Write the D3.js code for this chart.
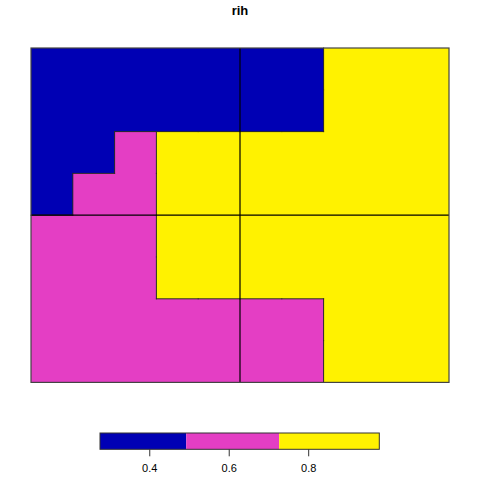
<!DOCTYPE html>
<html><head><meta charset="utf-8">
<script src="https://cdn.jsdelivr.net/npm/d3@7"></script>
<style>body{margin:0;background:#fff}svg{display:block}text{font-family:"Liberation Sans",Arial,sans-serif}</style>
</head><body>
<script>
// Grid values (10 columns x 8 rows, top row first)
const nCols = 10, nRows = 8;
const values = [
  [0.40,0.40,0.40,0.40,0.40,0.40,0.40,0.85,0.85,0.85],
  [0.40,0.40,0.40,0.40,0.40,0.40,0.40,0.85,0.85,0.85],
  [0.40,0.40,0.60,0.85,0.85,0.85,0.85,0.85,0.85,0.85],
  [0.40,0.60,0.60,0.85,0.85,0.85,0.85,0.85,0.85,0.85],
  [0.60,0.60,0.60,0.85,0.85,0.85,0.85,0.85,0.85,0.85],
  [0.60,0.60,0.60,0.85,0.85,0.85,0.85,0.85,0.85,0.85],
  [0.60,0.60,0.60,0.60,0.60,0.60,0.60,0.85,0.85,0.85],
  [0.60,0.60,0.60,0.60,0.60,0.60,0.60,0.85,0.85,0.85]
];
const breaks = [0.276, 0.493, 0.727, 0.979];
const classColors = ["#0000B4", "#E43EC4", "#FFF200"];
const keyTicks = [0.4, 0.6, 0.8];
const polyCols = [5];   // outline lines of the 2x2 polygon layout
const polyRows = [4];
const title = "rih";

const W = 480, H = 480;
const svg = d3.select("body").append("svg").attr("width", W).attr("height", H);

const x = d3.scaleLinear().domain([0, nCols]).range([31, 449]);
const y = d3.scaleLinear().domain([0, nRows]).range([48, 382.4]);
const color = d3.scaleThreshold().domain(breaks.slice(1, -1)).range(classColors);
const cls = v => d3.bisect(breaks.slice(1, -1), v);

const cells = [];
values.forEach((row, r) => row.forEach((v, c) => cells.push({r, c, v})));

const g = svg.append("g");
g.selectAll("rect.cell").data(cells).join("rect")
  .attr("class", "cell")
  .attr("x", d => x(d.c)).attr("y", d => y(d.r))
  .attr("width", d => x(d.c + 1) - x(d.c) + 0.3)
  .attr("height", d => y(d.r + 1) - y(d.r) + 0.3)
  .attr("fill", d => color(d.v))
  .attr("shape-rendering", "crispEdges");

// region boundaries between differing classes
const edges = [];
cells.forEach(d => {
  if (d.c < nCols - 1 && cls(values[d.r][d.c + 1]) !== cls(d.v))
    edges.push([x(d.c + 1), y(d.r), x(d.c + 1), y(d.r + 1)]);
  if (d.r < nRows - 1 && cls(values[d.r + 1][d.c]) !== cls(d.v))
    edges.push([x(d.c), y(d.r + 1), x(d.c + 1), y(d.r + 1)]);
});
g.selectAll("line.edge").data(edges).join("line")
  .attr("class", "edge")
  .attr("x1", d => d[0]).attr("y1", d => d[1]).attr("x2", d => d[2]).attr("y2", d => d[3])
  .attr("stroke", "#2a2a2a").attr("stroke-width", 1).attr("stroke-linecap", "square");

// polygon outlines
polyCols.forEach(c => g.append("line")
  .attr("x1", x(c)).attr("x2", x(c)).attr("y1", y(0)).attr("y2", y(nRows))
  .attr("stroke", "#000").attr("stroke-width", 1.2));
polyRows.forEach(r => g.append("line")
  .attr("x1", x(0)).attr("x2", x(nCols)).attr("y1", y(r)).attr("y2", y(r))
  .attr("stroke", "#000").attr("stroke-width", 1.2));
g.append("rect")
  .attr("x", x(0)).attr("y", y(0))
  .attr("width", x(nCols) - x(0)).attr("height", y(nRows) - y(0))
  .attr("fill", "none").attr("stroke", "#444").attr("stroke-width", 1.2);

// title
svg.append("text").attr("x", 240).attr("y", 15).attr("text-anchor", "middle")
  .attr("font-weight", "bold").attr("font-size", 13).attr("fill", "#000").text(title);

// colour key
const k = d3.scaleLinear().domain([breaks[0], breaks[breaks.length - 1]]).range([100, 379.3]);
const keyTop = 433, keyH = 16.3;
const segs = d3.range(breaks.length - 1).map(i => ({a: breaks[i], b: breaks[i + 1], col: classColors[i]}));
svg.selectAll("rect.key").data(segs).join("rect")
  .attr("class", "key")
  .attr("x", d => k(d.a)).attr("y", keyTop)
  .attr("width", d => k(d.b) - k(d.a)).attr("height", keyH)
  .attr("fill", d => d.col);
svg.append("rect").attr("x", k.range()[0]).attr("y", keyTop)
  .attr("width", k.range()[1] - k.range()[0]).attr("height", keyH)
  .attr("fill", "none").attr("stroke", "#333").attr("stroke-width", 1);

const axis = d3.axisBottom(k).tickValues(keyTicks).tickFormat(d3.format(".1f")).tickSize(7).tickPadding(8);
const ag = svg.append("g").attr("transform", `translate(0,${keyTop + keyH})`).call(axis);
ag.select(".domain").remove();
ag.selectAll("line").attr("stroke", "#333");
ag.selectAll("text").attr("font-size", 11).attr("fill", "#000")
  .attr("font-family", "Liberation Sans, Arial, sans-serif");
</script>
</body></html>
